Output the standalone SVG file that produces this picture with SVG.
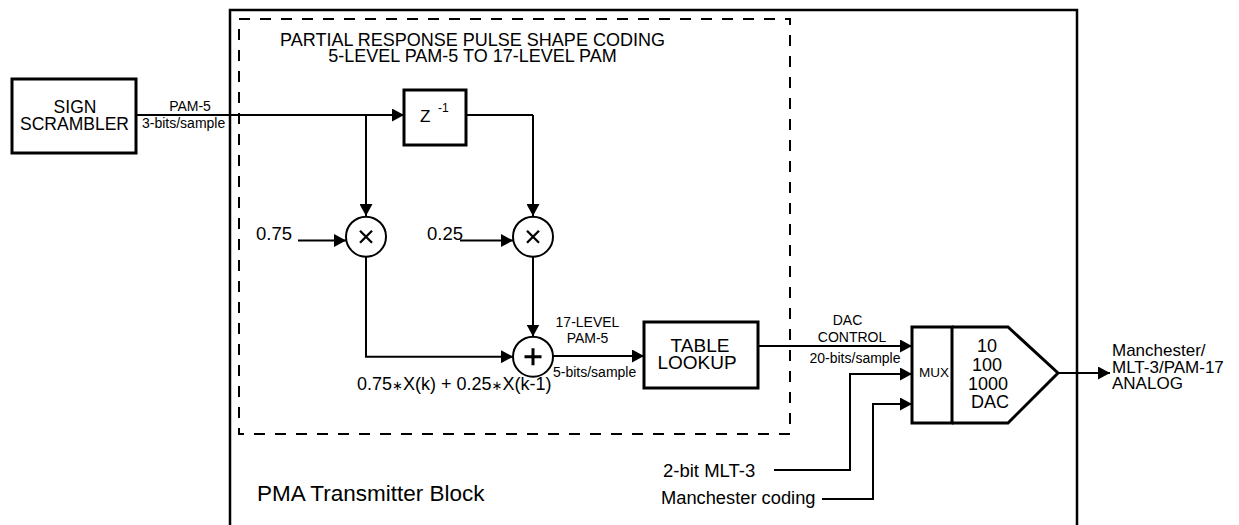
<svg xmlns="http://www.w3.org/2000/svg" width="1239" height="525" viewBox="0 0 1239 525">
<style>
text{font-family:"Liberation Sans",Arial,sans-serif;fill:#000}
.box{fill:none;stroke:#000;stroke-width:3}
.ln{fill:none;stroke:#000;stroke-width:2}
.arr{marker-end:url(#ah)}
.c{text-anchor:middle}
</style>
<defs>
<marker id="ah" markerUnits="userSpaceOnUse" markerWidth="13" markerHeight="13" refX="12" refY="6.5" orient="auto">
<path d="M0,0 L12,6.5 L0,13 z" fill="#000"/>
</marker>
</defs>
<rect width="1239" height="525" fill="#fff"/>

<g id="pma-block">
<path d="M230,530 V10 H1077 V530" fill="none" stroke="#000" stroke-width="2.5"/>
<text x="257" y="501" font-size="22.5">PMA Transmitter Block</text>
</g>

<g id="partial-response-block">
<rect x="239" y="19" width="551" height="415" fill="none" stroke="#000" stroke-width="2" stroke-dasharray="11 10"/>
<text class="c" x="472.5" y="46" font-size="18">PARTIAL RESPONSE PULSE SHAPE CODING</text>
<text class="c" x="472.5" y="62" font-size="18">5-LEVEL PAM-5 TO 17-LEVEL PAM</text>
<text x="357" y="390" font-size="18">0.75<tspan font-family="'DejaVu Sans',sans-serif" font-size="13">∗</tspan>X(k) + 0.25<tspan font-family="'DejaVu Sans',sans-serif" font-size="13">∗</tspan>X(k-1)</text>
</g>

<g id="sign-scrambler">
<rect class="box" x="12" y="79" width="124" height="74" stroke-width="3.3"/>
<text class="c" x="75" y="113" font-size="17.5">SIGN</text>
<text class="c" x="74.5" y="130" font-size="17.5">SCRAMBLER</text>
</g>

<g id="delay">
<rect class="box" x="404" y="90" width="62" height="55"/>
<text x="420" y="121.5" font-size="17">Z</text>
<text x="438" y="111.5" font-size="12">-1</text>
</g>

<g id="mult1">
<circle cx="366" cy="236.7" r="20" fill="#fff" stroke="#000" stroke-width="2"/>
<path d="M360,230.7 L372,242.7 M372,230.7 L360,242.7" stroke="#000" stroke-width="2.3"/>
<text x="256" y="240" font-size="18.5">0.75</text>
</g>

<g id="mult2">
<circle cx="533" cy="236.7" r="20" fill="#fff" stroke="#000" stroke-width="2"/>
<path d="M527,230.7 L539,242.7 M539,230.7 L527,242.7" stroke="#000" stroke-width="2.3"/>
<text x="427" y="240" font-size="18.5">0.25</text>
</g>

<g id="adder">
<circle cx="533" cy="356.7" r="20" fill="#fff" stroke="#000" stroke-width="2"/>
<path d="M524.5,356.7 H541.5 M533,348.2 V365.2" stroke="#000" stroke-width="3"/>
</g>

<g id="table-lookup">
<rect class="box" x="644" y="322" width="114" height="66"/>
<text class="c" x="700" y="352" font-size="19">TABLE</text>
<text class="c" x="697" y="369" font-size="19">LOOKUP</text>
</g>

<g id="mux">
<rect class="box" x="912" y="327" width="40" height="96"/>
<text x="919" y="377" font-size="13.5">MUX</text>
</g>

<g id="dac">
<path d="M952,327 H1008 L1058,373 L1008,423 H952" class="box"/>
<text class="c" x="987" y="352" font-size="18">10</text>
<text class="c" x="987" y="371" font-size="18">100</text>
<text class="c" x="988" y="390" font-size="18">1000</text>
<text class="c" x="990" y="408" font-size="18">DAC</text>
</g>

<g id="connectors">
<path class="ln arr" d="M136,115 H404"/>
<path class="ln arr" d="M366,115 V216"/>
<path class="ln" d="M466,115 H533"/>
<path class="ln arr" d="M533,115 V216"/>
<path class="ln arr" d="M298,240.5 H346"/>
<path class="ln arr" d="M460,240.5 H513"/>
<path class="ln arr" d="M366,257 V356.7 H513"/>
<path class="ln arr" d="M533,257 V336.5"/>
<path class="ln arr" d="M553,356 H644"/>
<path class="ln arr" d="M758,346 H912"/>
<path class="ln arr" d="M774,470 H850 V374 H912"/>
<path class="ln arr" d="M822,499 H873 V404 H912"/>
<path class="ln arr" d="M1058,373 H1110"/>
</g>

<g id="labels">
<text class="c" x="190" y="110.5" font-size="14">PAM-5</text>
<text x="142" y="128" font-size="14">3-bits/sample</text>
<text class="c" x="587.5" y="327" font-size="14">17-LEVEL</text>
<text class="c" x="587.5" y="343" font-size="14">PAM-5</text>
<text x="553" y="377" font-size="14">5-bits/sample</text>
<text class="c" x="847.5" y="325" font-size="14">DAC</text>
<text class="c" x="852" y="342" font-size="14">CONTROL</text>
<text class="c" x="855" y="363" font-size="14">20-bits/sample</text>
<text x="663" y="477" font-size="18.5">2-bit MLT-3</text>
<text x="661" y="504" font-size="18.3">Manchester coding</text>
<text x="1112" y="356" font-size="17">Manchester/</text>
<text x="1112" y="373" font-size="17">MLT-3/PAM-17</text>
<text x="1112" y="389" font-size="17">ANALOG</text>
</g>
</svg>
